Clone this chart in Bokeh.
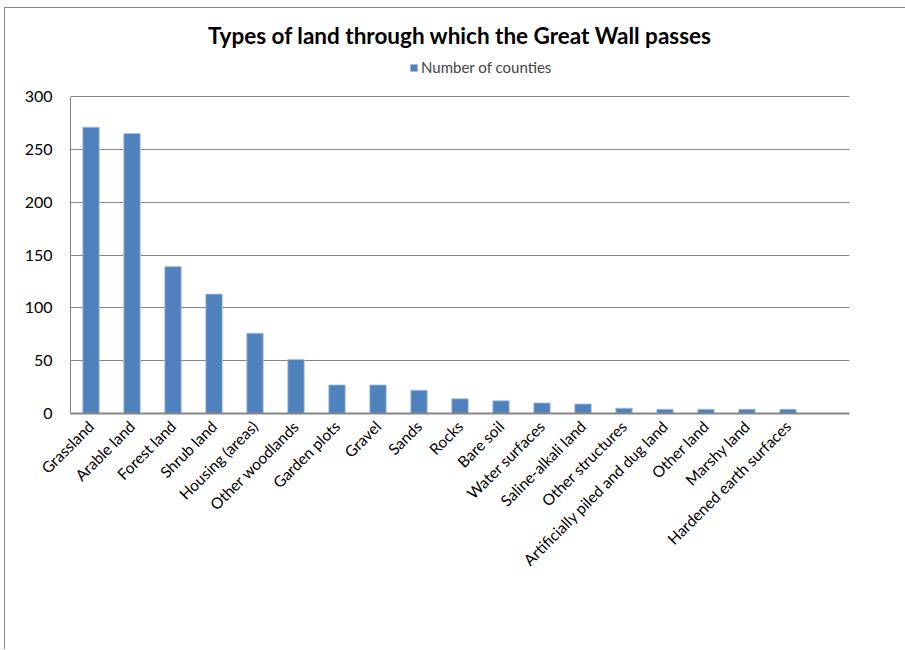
import math
from bokeh.plotting import figure
from bokeh.models import Range1d, FixedTicker, Legend, LegendItem, ColumnDataSource
from bokeh.embed import file_html
from bokeh.resources import INLINE

title_text = "Types of land through which the Great Wall passes"
series_name = "Number of counties"
categories = [
    "Grassland", "Arable land", "Forest land", "Shrub land", "Housing (areas)",
    "Other woodlands", "Garden plots", "Gravel", "Sands", "Rocks", "Bare soil",
    "Water surfaces", "Saline-alkali land", "Other structures",
    "Artificially piled and dug land", "Other land", "Marshy land",
    "Hardened earth surfaces",
]
counties = [271, 265, 139, 113, 76, 51, 27, 27, 22, 14, 12, 10, 9, 5, 4, 4, 4, 4]
y_ticks = [0, 50, 100, 150, 200, 250, 300]
y_max = 300

n_slots = len(categories) + 1  # the source chart leaves one empty slot at the right
xs = [i + 0.5 for i in range(len(categories))]
src = ColumnDataSource(dict(x=xs, top=counties, name=categories))

FONT = "Lato"
GRAY = "#868686"

# value axis spans 317 px for 0..300; the frame also holds the legend strip above it
FRAME_H = 360
PX_PER_UNIT = 317 / y_max

p = figure(
    frame_width=779, frame_height=FRAME_H,
    x_range=Range1d(0, n_slots), y_range=Range1d(0, FRAME_H / PX_PER_UNIT),
    output_backend="svg", toolbar_location=None,
    min_border_left=65, min_border_right=56, min_border_top=45, min_border_bottom=236,
)
p.styles = {"margin-left": "4px", "margin-top": "7px",
            "border-left": "1px solid #888888", "border-top": "1px solid #888888"}

p.title.text = title_text
p.title.align = "center"
p.title.text_font = FONT
p.title.text_font_size = "22.5px"
p.title.text_font_style = "bold"
p.title.text_color = "black"
p.title.standoff = 10

r = p.vbar(x="x", top="top", width=0.4, bottom=0, source=src,
           fill_color="#4F81BD", line_color="#A9C1DF", line_width=0.8)

# axes
p.xaxis.ticker = FixedTicker(ticks=xs)
p.xaxis.major_label_overrides = {x: c for x, c in zip(xs, categories)}
p.xaxis.major_label_orientation = math.pi / 4
p.xaxis.major_label_text_font = FONT
p.xaxis.major_label_text_font_size = "15.5px"
p.xaxis.major_label_text_color = "black"
p.xaxis.major_label_standoff = 10
p.xaxis.axis_line_color = GRAY
p.xaxis.axis_line_width = 2
p.xaxis.major_tick_out = 0
p.xaxis.major_tick_in = 0
p.xaxis.minor_tick_out = 0
p.xaxis.minor_tick_in = 0

p.yaxis.ticker = FixedTicker(ticks=y_ticks)
p.yaxis.bounds = (0, y_max)
p.yaxis.major_label_text_font = FONT
p.yaxis.major_label_text_font_size = "16px"
p.yaxis.major_label_text_color = "black"
p.yaxis.major_label_standoff = 18
p.yaxis.axis_line_color = GRAY
p.yaxis.axis_line_width = 1
p.yaxis.major_tick_out = 0
p.yaxis.major_tick_in = 0
p.yaxis.minor_tick_out = 0
p.yaxis.minor_tick_in = 0

p.xgrid.grid_line_color = None
p.ygrid.ticker = FixedTicker(ticks=y_ticks)
p.ygrid.grid_line_color = GRAY
p.ygrid.grid_line_width = 1
p.outline_line_color = None

legend = Legend(items=[LegendItem(label=series_name, renderers=[r])],
                location=(339, 337), orientation="horizontal")
legend.glyph_width = 9
legend.glyph_height = 9
legend.label_text_font = FONT
legend.label_text_font_size = "15px"
legend.label_standoff = 3
legend.padding = 0
legend.margin = 0
legend.spacing = 0
legend.border_line_color = None
legend.background_fill_alpha = 0
p.add_layout(legend, "center")

with open("out.html", "w") as f:
    f.write(file_html(p, INLINE))
